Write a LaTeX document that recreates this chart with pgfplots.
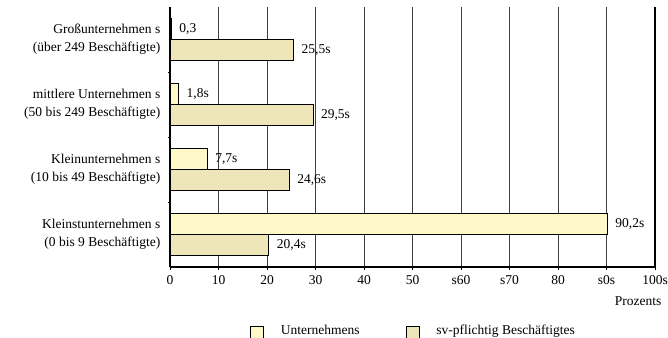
\documentclass[border=0pt]{standalone}
\usepackage{pgfplots}
\pgfplotsset{compat=1.18}
\usepackage{pgfplotstable}
\usepackage{fontspec}
\setmainfont{Liberation Serif}
\definecolor{unt}{HTML}{FFF8C8}
\definecolor{svb}{HTML}{EEE5B9}
\pgfplotstableread{
y x label
3 0.3 {0,3}
2 1.8 {1,8s}
1 7.7 {7,7s}
0 90.2 {90,2s}
}\untdata
\pgfplotstableread{
y x label
3 25.5 {25,5s}
2 29.5 {29,5s}
1 24.6 {24,6s}
0 20.4 {20,4s}
}\svdata
\begin{document}
\fontsize{13.5bp}{17bp}\selectfont
\begin{tikzpicture}[x=1bp,y=1bp]
\path[use as bounding box] (0,0) rectangle (668,337);
\begin{axis}[
  at={(170bp,70bp)}, anchor=south west,
  scale only axis, width=485bp, height=260bp,
  xbar, bar width=21bp,
  xmin=0, xmax=100, ymin=-0.5, ymax=3.5,
  axis x line*=bottom, axis y line*=left,
  axis line style={line width=1.6bp, black, -},
  xtick={0,10,...,100},
  xticklabels={0,10,20,30,40,50,s60,s70,80,s0s,100s},
  xmajorgrids, grid style={black!75, line width=0.9bp},
  x tick style={black, line width=0.9bp}, tick align=outside, major tick length=3bp,
  ytick={0,1,2,3},
  yticklabels={{Kleinstunternehmen s\\(0 bis 9 Beschäftigte)},{Kleinunternehmen s\\(10 bis 49 Beschäftigte)},{mittlere Unternehmen s\\(50 bis 249 Beschäftigte)},{Großunternehmen s\\(über 249 Beschäftigte)}},
  yticklabel style={align=right, font=\fontsize{13.5bp}{18bp}\selectfont, xshift=-2bp},
  y tick style={draw=none},
  minor ytick={0.5,1.5,2.5},
  minor y tick style={draw=black, line width=0.9bp},
  minor tick length=2bp,
  xticklabel style={font=\fontsize{13.5bp}{16bp}\selectfont, yshift=-1bp},
  xlabel={Prozents},
  xlabel style={at={(rel axis cs:1,0)}, anchor=north east, yshift=-25bp, xshift=11bp, font=\fontsize{13.5bp}{16bp}\selectfont},
  nodes near coords,
  point meta=explicit symbolic,
  every node near coord/.append style={anchor=west, xshift=3bp, font=\fontsize{13.5bp}{16bp}\selectfont, text=black},
  legend columns=2,
  legend style={at={(0.165,-0.247)}, anchor=west, draw=none, fill=none, inner sep=0pt, outer sep=0pt,
    font=\fontsize{13.5bp}{16bp}\selectfont,
    /tikz/every even column/.append style={column sep=44bp}},
  legend image code/.code={\draw[#1, draw=black, line width=0.8bp] (0bp,-9bp) rectangle (13bp,4bp); \path (28bp,0bp);},
  clip=false,
]
\addplot[fill=unt, draw=black, line width=0.9bp, bar shift=10.5bp] table[x=x, y=y, meta=label] {\untdata};
\addplot[fill=svb, draw=black, line width=0.9bp, bar shift=-10.5bp] table[x=x, y=y, meta=label] {\svdata};
\legend{Unternehmens, sv-pflichtig Beschäftigtes}
\draw[black, line width=1.6bp] (rel axis cs:1,0) -- (rel axis cs:1,1);
\end{axis}
\end{tikzpicture}
\end{document}
